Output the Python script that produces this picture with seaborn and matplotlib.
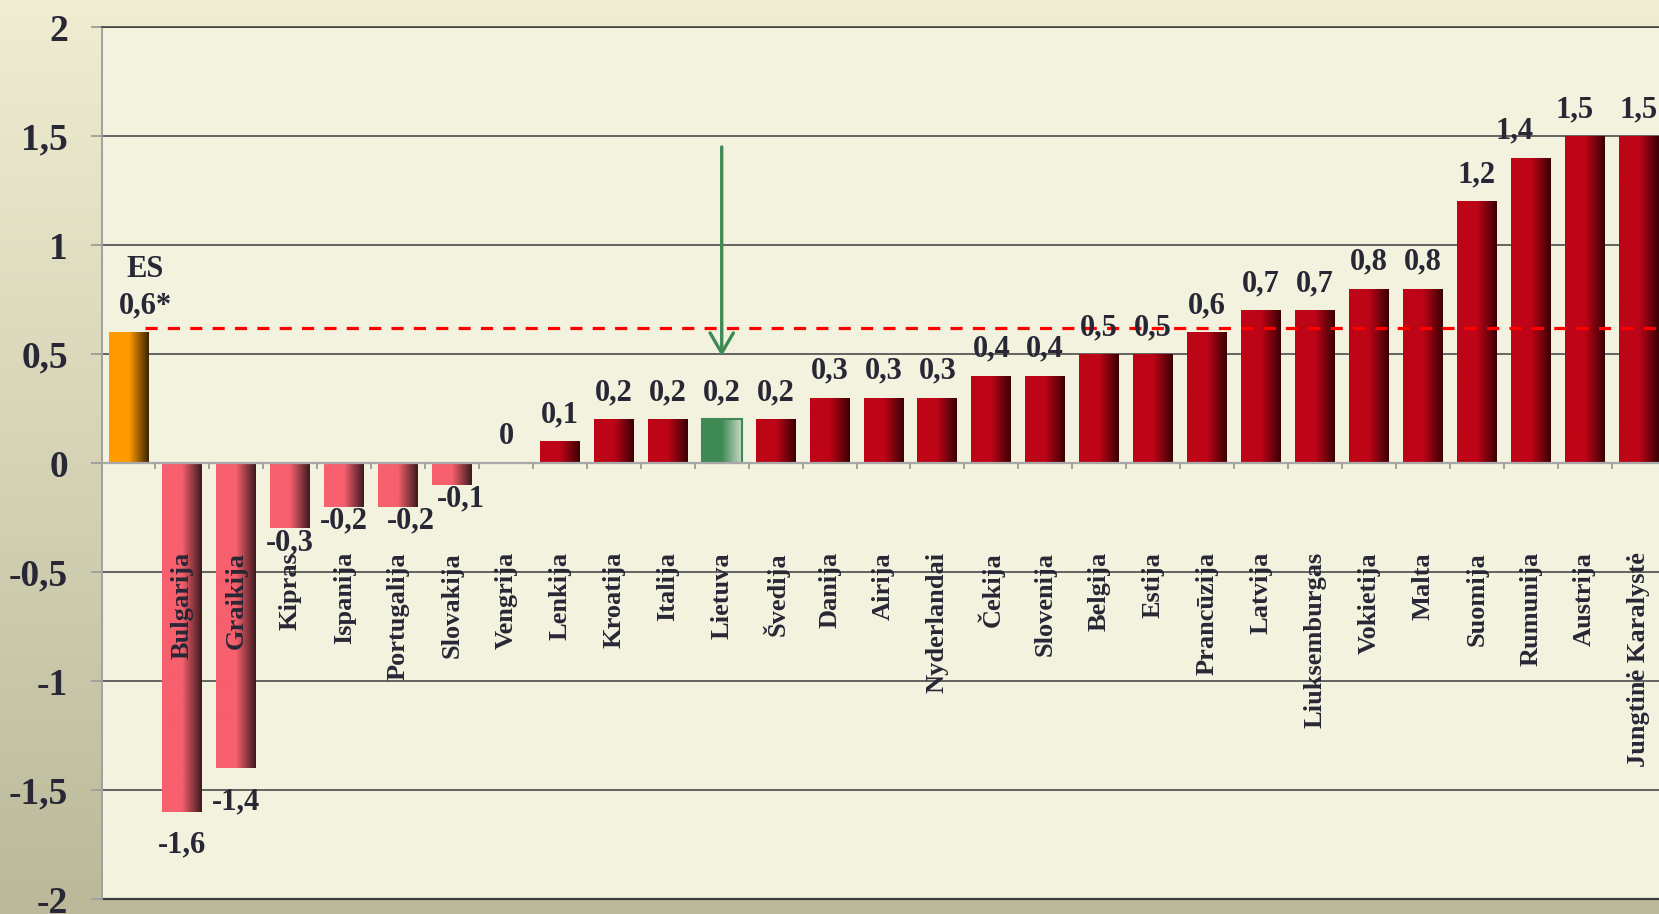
import matplotlib
matplotlib.use("Agg")
import matplotlib.pyplot as plt
from matplotlib.ticker import MultipleLocator
from matplotlib.colors import to_rgb
import seaborn as sns
import numpy as np

# Duomenys
countries = ["ES", "Bulgarija", "Graikija", "Kipras", "Ispanija", "Portugalija",
             "Slovakija", "Vengrija", "Lenkija", "Kroatija", "Italija", "Lietuva",
             "Švedija", "Danija", "Airija", "Nyderlandai", "Čekija", "Slovenija",
             "Belgija", "Estija", "Prancūzija", "Latvija", "Liuksemburgas",
             "Vokietija", "Malta", "Suomija", "Rumunija", "Austrija",
             "Jungtinė Karalystė"]
values = [0.6, -1.6, -1.4, -0.3, -0.2, -0.2, -0.1, 0, 0.1, 0.2, 0.2, 0.2, 0.2,
          0.3, 0.3, 0.3, 0.4, 0.4, 0.5, 0.5, 0.6, 0.7, 0.7, 0.8, 0.8, 1.2, 1.4,
          1.5, 1.5]
es_average = 0.62
highlight = "Lietuva"
yticks = [-2, -1.5, -1, -0.5, 0, 0.5, 1, 1.5, 2]

# spalvos
RED, RED_DARK = "#BE0517", "#3A0005"
PINK, PINK_DARK = "#F7606E", "#3C1A1E"
ORANGE, ORANGE_DARK = "#FF9900", "#3C2400"
GREEN, GREEN_LIGHT = "#3F8A54", "#CAD8C8"
TEXT = "#272735"

def bar_colors(name, v):
    if name == "ES":
        return ORANGE, ORANGE_DARK
    if name == highlight:
        return GREEN, GREEN_LIGHT
    if v < 0:
        return PINK, PINK_DARK
    return RED, RED_DARK

pairs = [bar_colors(c, v) for c, v in zip(countries, values)]

sns.set_style("white")
plt.rcParams["font.family"] = ["Liberation Serif", "DejaVu Serif"]
plt.rcParams["font.weight"] = "bold"

fig = plt.figure(figsize=(16.59, 9.14), dpi=100)

# fonas su gradientu
bg = fig.add_axes([0, 0, 1, 1], zorder=-10)
top_c, bot_c = np.array(to_rgb("#F0EDD2")), np.array(to_rgb("#BBB99A"))
t = np.linspace(0, 1, 256)[:, None]
grad = top_c * (1 - t) + bot_c * t
bg.imshow(np.repeat(grad[:, None, :], 2, axis=1), aspect="auto", extent=[0, 1, 0, 1])
bg.axis("off")

ax = fig.add_axes([0.0612, 0.0164, 0.9427, 0.954])
ax.set_facecolor("#F3F2DF")

sns.barplot(x=countries, y=values, hue=countries, palette=[p[0] for p in pairs],
            legend=False, dodge=False, width=0.74, saturation=1, ax=ax,
            edgecolor="none")

# gradientas ant stulpeliu
patches = sorted(ax.patches, key=lambda p: p.get_x())
ramp = np.clip((np.linspace(0, 1, 120) - 0.5) / 0.5, 0, 1)[:, None]
for patch, (c0, c1), name in zip(patches, pairs, countries):
    x0, y0 = patch.get_x(), patch.get_y()
    w, h = patch.get_width(), patch.get_height()
    if h == 0:
        continue
    g = np.array(to_rgb(c0)) * (1 - ramp) + np.array(to_rgb(c1)) * ramp
    im = ax.imshow(g[None, :, :], extent=(x0, x0 + w, y0, y0 + h), aspect="auto",
                   interpolation="bilinear", zorder=patch.get_zorder() + 0.1)
    im.set_clip_path(patch)
    if name == highlight:
        patch.set_edgecolor(GREEN)
        patch.set_linewidth(1.5)
        patch.set_zorder(patch.get_zorder() + 0.2)
        patch.set_facecolor("none")

ax.set_xlim(-0.5, len(countries) - 0.5)
ax.set_ylim(-2, 2)

# spine perkeliamas pries tvarkant etiketes (kitaip jos atstatomos)
ax.spines["bottom"].set_position(("data", 0))
ax.spines["bottom"].set_color("#A8A8A8")
ax.spines["bottom"].set_linewidth(1.6)
ax.spines["left"].set_color("#A0A0A0")
ax.spines["left"].set_linewidth(1.4)
ax.spines["top"].set_color("#3C3C3C")
ax.spines["top"].set_linewidth(1.1)
ax.spines["right"].set_visible(False)
ax.axhline(-2, color="#3C3C3C", lw=1.6, clip_on=False, zorder=2)

# ES vidurkio linija
ax.plot([0.3, len(countries) - 0.5], [es_average, es_average], color="#FF0000",
        lw=2.3, dashes=(3.8, 3.2), zorder=3)

# rodykle i Lietuva
li = countries.index(highlight)
ax.annotate("", xy=(li, 0.49), xytext=(li, 1.45),
            arrowprops=dict(arrowstyle="->,head_length=0.72,head_width=0.42",
                            color=GREEN, lw=2.4, mutation_scale=20,
                            shrinkA=0, shrinkB=0), zorder=4)

# reiksmiu etiketes
nudges = {"ES": (12, 0), "Portugalija": (9, 0), "Slovakija": (6.5, 0),
          "Rumunija": (-11.5, 0), "Austrija": (-7, 0),
          "Bulgarija": (0, -14), "Graikija": (0, -14)}
for i, (name, v) in enumerate(zip(countries, values)):
    lab = "0" if v == 0 else f"{v:.1f}".replace(".", ",")
    if name == "ES":
        lab += "*"
    dx, dy = nudges.get(name, (0, 0))
    base = 13.7 if v >= 0 else -15.5
    ax.annotate(lab, (i, v), xytext=(dx, base + dy), textcoords="offset points",
                ha="center", va="baseline", fontsize=22, fontweight="bold",
                color=TEXT, zorder=5)
    if name == "ES":
        ax.annotate("ES", (i, v), xytext=(dx, 39.6), textcoords="offset points",
                    ha="center", va="baseline", fontsize=22, fontweight="bold",
                    color=TEXT, zorder=5)

# asys
ax.set_yticks(yticks)
ax.set_yticklabels(["0" if y == 0 else (f"{y:g}").replace(".", ",") for y in yticks])
ax.yaxis.grid(True, color="#3C3C3C", lw=1.1)
ax.set_axisbelow(True)
ax.tick_params(axis="y", length=8, width=1.4, color="#A0A0A0", pad=16,
               labelsize=27, labelcolor=TEXT, left=True)

ax.set_xticks(range(len(countries)))
ax.set_xticklabels(["" if c == "ES" else c for c in countries])
ax.xaxis.set_minor_locator(MultipleLocator(1, offset=0.5))
ax.tick_params(axis="x", which="major", length=0, pad=64, labelrotation=90,
               labelsize=19, labelcolor=TEXT)
ax.tick_params(axis="x", which="minor", length=4.3, width=1.4, color="#A0A0A0",
               bottom=True)
for lbl in ax.get_xticklabels():
    lbl.set_fontweight("bold")
# salies pavadinimai virs stulpeliu (Bulgarija, Graikija)
ax.xaxis.set_zorder(6)
ax.set_xlabel("")
ax.set_ylabel("")

fig.savefig("out.png", dpi=100)
